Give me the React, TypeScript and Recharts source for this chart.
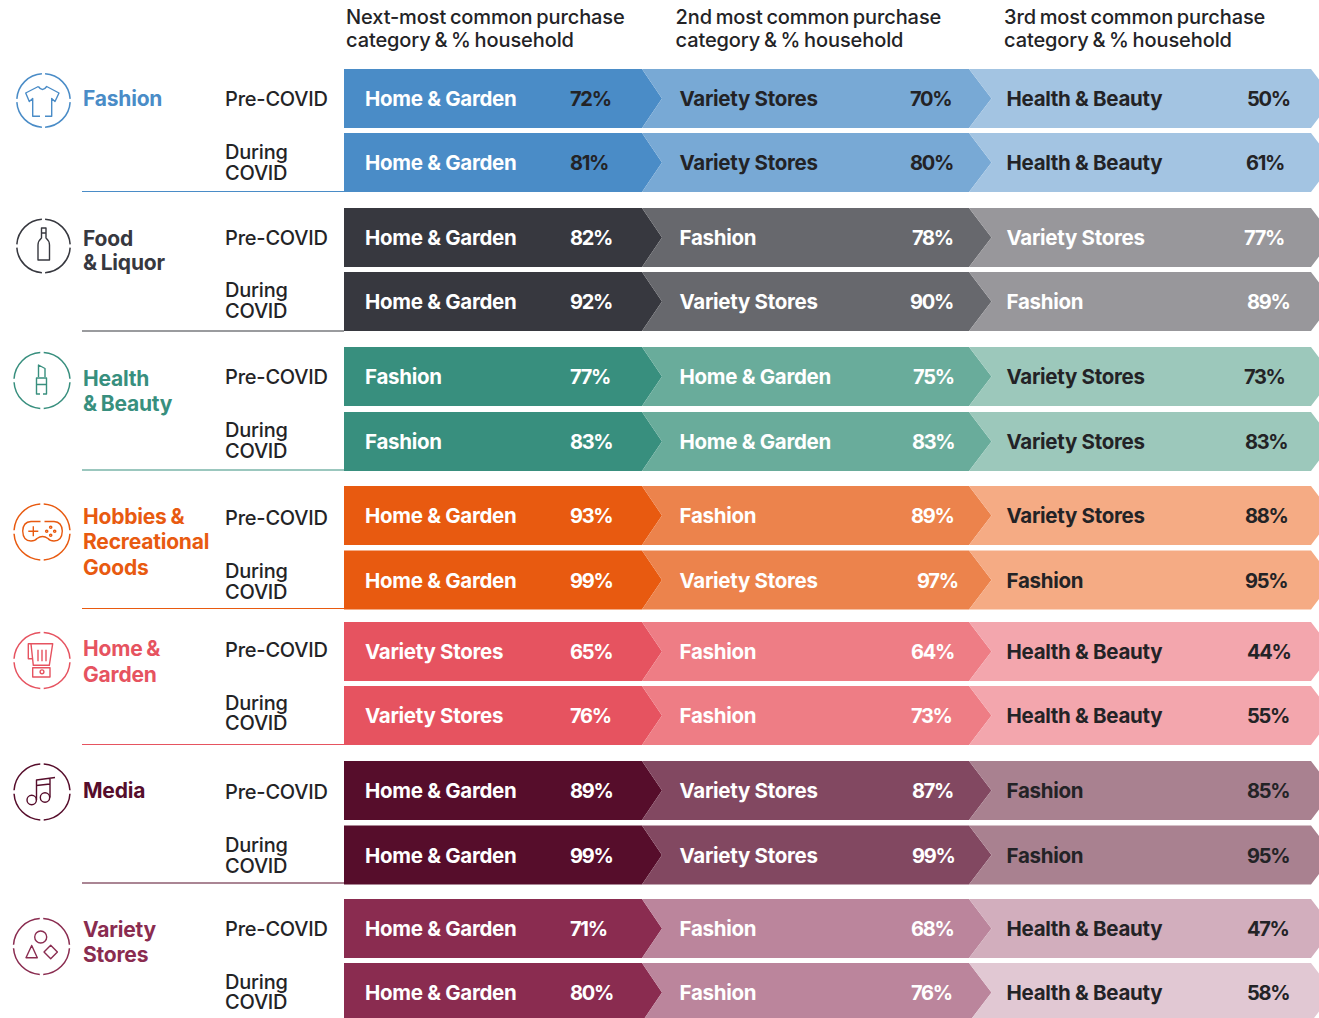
import React from 'react';
import { BarChart, Bar, XAxis, YAxis } from 'recharts';

const periods = ['Pre-COVID', 'During COVID'];
const groupNames = ['Fashion', 'Food & Liquor', 'Health & Beauty', 'Hobbies & Recreational Goods', 'Home & Garden', 'Media', 'Variety Stores'];

const headerLines = [
  ['Next-most common purchase', 'category & % household'],
  ['2nd most common purchase', 'category & % household'],
  ['3rd most common purchase', 'category & % household'],
];

const HG = 'Home & Garden';
const VS = 'Variety Stores';
const HB = 'Health & Beauty';
const FA = 'Fashion';

const fashionCats = [[HG, VS, HB], [HG, VS, HB]];
const fashionPct = [[72, 70, 50], [81, 80, 61]];
const foodCats = [[HG, FA, VS], [HG, VS, FA]];
const foodPct = [[82, 78, 77], [92, 90, 89]];
const healthCats = [[FA, HG, VS], [FA, HG, VS]];
const healthPct = [[77, 75, 73], [83, 83, 83]];
const hobbiesCats = [[HG, FA, VS], [HG, VS, FA]];
const hobbiesPct = [[93, 89, 88], [99, 97, 95]];
const homeCats = [[VS, FA, HB], [VS, FA, HB]];
const homePct = [[65, 64, 44], [76, 73, 55]];
const mediaCats = [[HG, VS, FA], [HG, VS, FA]];
const mediaPct = [[89, 87, 85], [99, 99, 95]];
const varietyCats = [[HG, FA, HB], [HG, FA, HB]];
const varietyPct = [[71, 68, 47], [80, 76, 58]];

const allCats = [fashionCats, foodCats, healthCats, hobbiesCats, homeCats, mediaCats, varietyCats];
const allPct = [fashionPct, foodPct, healthPct, hobbiesPct, homePct, mediaPct, varietyPct];

// ---- layout and style, kept apart from the values ----
const W = 1319;
const H = 1018;
const FONT = 'Inter, "Noto Sans", sans-serif';
const DARK = '#232326';
const SPANS = [298, 327, 342];
const PLOT_LEFT = 344;
const ROW_H = 59;
const TIP = [20, 22.5, 22.5];
const groupTop = [65.5, 205, 343.5, 482.5, 618.5, 757.5, 895.5];
const groupPitch = [64, 64, 65, 64.5, 64, 64.5, 64];

const swatches = [
  ['#4A8CC7', '#78A9D5', '#A3C4E2'],
  ['#37383F', '#67686D', '#98979B'],
  ['#388F7E', '#69AC9B', '#9CC8BB'],
  ['#E85A10', '#EC834C', '#F5AB84'],
  ['#E65360', '#EE7D85', '#F3A6AD'],
  ['#560D2B', '#824861', '#A98190'],
  ['#8A2C50', '#BB859C', '#D2AEBD'],
];
const lastRowFill3: Record<number, string> = { 6: '#E1C8D3' };

// name colour and percentage colour for each column
const W_ = '#FFFFFF';
const nameInk = [
  [W_, DARK, DARK], [W_, W_, W_], [W_, W_, DARK], [W_, W_, DARK], [W_, W_, DARK], [W_, W_, DARK], [W_, W_, DARK],
];
const pctInk = [
  [DARK, DARK, DARK], [W_, W_, W_], [W_, W_, DARK], [W_, W_, DARK], [W_, W_, DARK], [W_, W_, DARK], [W_, W_, DARK],
];

const pctLeft = [
  [[570, 910, 1247], [570, 910, 1246]],
  [[570, 912, 1244], [570, 910, 1247]],
  [[570, 913, 1244], [570, 912, 1245]],
  [[570, 911, 1245], [570, 917, 1245]],
  [[570, 911, 1247], [570, 911, 1247]],
  [[570, 912, 1247], [570, 912, 1247]],
  [[570, 911, 1247], [570, 911, 1247]],
];
const nameLeft = [365, 679.5, 1006.5];
const tickNudge = [[1, 0.5], [1.3, -0.5], [0.7, -1], [3, 1.75], [-1.5, -1.8], [2, 0.5], [0.8, 0]];

const labelLines = [
  { lines: ['Fashion'], ys: [98] },
  { lines: ['Food', '& Liquor'], ys: [238, 262] },
  { lines: ['Health', '& Beauty'], ys: [378, 403] },
  { lines: ['Hobbies &', 'Recreational', 'Goods'], ys: [516, 541, 567] },
  { lines: ['Home &', 'Garden'], ys: [648.5, 674.5] },
  { lines: ['Media'], ys: [790] },
  { lines: ['Variety', 'Stores'], ys: [929, 954] },
];
const ruleY = [191.5, 331, 470, 608.5, 744.5, 883];
const ringCentre = [[43.5, 100.5, 26.7], [43.5, 246, 26.7], [42, 380.5, 28], [42, 532, 28], [42, 660.5, 28], [42, 792, 28], [41.5, 946.5, 28]];

const makeRows = (g: number) =>
  periods.map((period, r) => ({
    period,
    seg1: SPANS[0],
    seg2: SPANS[1],
    seg3: SPANS[2],
    cats: allCats[g][r],
    pct: allPct[g][r],
    row: r,
  }));

const makeChevron = (g: number, col: number) => (props: any) => {
  const { x, y, width, height, payload } = props;
  const r = payload.row;
  const fill = col === 2 && r === 1 && lastRowFill3[g] ? lastRowFill3[g] : swatches[g][col];
  const mid = y + height / 2;
  const right = x + width;
  const pts = [
    [x, y],
    [right, y],
    [right + TIP[col], mid],
    [right, y + height],
    [x, y + height],
    ...(col > 0 ? [[x + TIP[col - 1], mid]] : []),
  ].map((p) => p.join(',')).join(' ');
  return (
    <g>
      <polygon points={pts} fill={fill} />
      <text x={nameLeft[col]} y={mid + 0.2} dominantBaseline="central" fill={nameInk[g][col]} fontFamily={FONT} fontSize={20.5} fontWeight={700} letterSpacing={-0.3}>
        {payload.cats[col]}
      </text>
      <text x={pctLeft[g][r][col]} y={mid + 0.6} dominantBaseline="central" fill={pctInk[g][col]} fontFamily={FONT} fontSize={20} fontWeight={700} letterSpacing={-1.3}>
        {payload.pct[col]}%
      </text>
    </g>
  );
};

const makeTick = (g: number) => (props: any) => {
  const { y, payload } = props;
  const label: string = payload.value;
  const words = label === 'During COVID' ? ['During', 'COVID'] : [label];
  const nudge = tickNudge[g][words.length - 1];
  return (
    <text fontFamily={FONT} fontSize={20} fontWeight={500} fill={DARK} letterSpacing={-0.2}>
      {words.map((w, i) => (
        <tspan key={w} x={225} y={y + nudge + (i - (words.length - 1) / 2) * 20.5} dominantBaseline="central">
          {w}
        </tspan>
      ))}
    </text>
  );
};

const Group = ({ g }: { g: number }) => {
  const height = groupPitch[g] * 2;
  return (
    <div style={{ position: 'absolute', left: 0, top: groupTop[g], width: W, height }}>
      <BarChart
        width={W}
        height={height}
        layout="vertical"
        data={makeRows(g)}
        margin={{ top: 0, right: 0, bottom: 0, left: 0 }}
        barSize={ROW_H}
      >
        <XAxis type="number" domain={[0, W - PLOT_LEFT]} hide />
        <YAxis type="category" dataKey="period" width={PLOT_LEFT} axisLine={false} tickLine={false} interval={0} tick={makeTick(g)} />
        <Bar dataKey="seg1" stackId="s" isAnimationActive={false} shape={makeChevron(g, 0)} />
        <Bar dataKey="seg2" stackId="s" isAnimationActive={false} shape={makeChevron(g, 1)} />
        <Bar dataKey="seg3" stackId="s" isAnimationActive={false} shape={makeChevron(g, 2)} />
      </BarChart>
    </div>
  );
};

const iconPaths: string[] = [
  'M38.3 86.5 Q42.5 92.5 46.7 86.5 L59 93 L55 101.5 L51.7 98.5 V116.3 H45 M40 116.3 H32.7 V98.5 L29.3 101.5 L25.7 93 L38.3 86.5',
  'M41.5 228 H46 V238 Q49.5 241 49.5 245 V260 H38 V245 Q38 241 41.5 238 Z M41.5 233 H46',
  'M38.5 377 V365 L45 368.5 V377 M36.5 384.5 V378 H46.5 V384.5 H36.5 V394 H40 M43 394 H46.5 V384.5',
  'M40.5 521.5 H31 Q23 522 22.7 531 Q23 541 31 541 Q35 541 37 538.5 Q42.5 534.5 48 538.5 Q50 541 54 541 Q62 541 62.3 531 Q62 522 54 521.5 H44.5 M33.3 526.3 V536.3 M28.3 531.3 H38.3',
  'M32.3 658.7 H28.3 V643.7 H52.7 L49.3 665.3 H33.3 L31 644 M38 649.7 V661.3 M42 649.7 V661.3 M46 649.7 V661.3 M32.7 667.7 H50 V677 H32.7 Z',
  'M36.5 800 V780 L55 777.5 M36.5 785.5 L50 784 M50 797.5 V778.5',
  'M31.7 945.5 L26 957.7 H37.3 Z M50.7 945.3 L57.4 952 L50.7 958.7 L44 952 Z',
];
const iconCircles: number[][][] = [
  [],
  [],
  [],
  [[50.7, 527.3, 1.1], [46.7, 531.3, 1.1], [54.7, 531.3, 1.1], [50.7, 535.3, 1.1]],
  [[42, 671.8, 1.9]],
  [[31.7, 800, 4.7], [45, 797.5, 4.7]],
  [[40.7, 937, 6]],
];

const Backdrop = () => (
  <svg width={W} height={H} style={{ position: 'absolute', left: 0, top: 0 }}>
    {headerLines.map((lines, c) =>
      lines.map((t, i) => (
        <text key={t + c} x={[346, 675.5, 1004][c]} y={17 + i * 23} dominantBaseline="central" fill={DARK} fontFamily={FONT} fontSize={20} fontWeight={500} letterSpacing={-0.1} wordSpacing={-1.5}>
          {t}
        </text>
      )),
    )}
    {groupNames.map((name, g) => {
      const ink = swatches[g][0];
      const [cx, cy, rad] = ringCentre[g];
      return (
        <g key={name}>
          <circle cx={cx} cy={cy} r={rad} fill="none" stroke={ink} strokeWidth={1.5} pathLength={100} strokeDasharray="23 2" strokeDashoffset={-1} />
          <path d={iconPaths[g]} fill="none" stroke={ink} strokeWidth={1.4} strokeLinejoin="round" />
          {iconCircles[g].map(([a, b, c2]) => (
            <circle key={`${a}-${b}`} cx={a} cy={b} r={c2} fill="none" stroke={ink} strokeWidth={1.4} />
          ))}
          {labelLines[g].lines.map((t, i) => (
            <text key={t} x={83} y={labelLines[g].ys[i]} dominantBaseline="central" fill={ink} fontFamily={FONT} fontSize={21} fontWeight={700} letterSpacing={-0.2} wordSpacing={-1}>
              {t}
            </text>
          ))}
          {g < ruleY.length && <line x1={82} x2={PLOT_LEFT} y1={ruleY[g]} y2={ruleY[g]} stroke={ink} strokeWidth={1.2} />}
        </g>
      );
    })}
  </svg>
);

export default function App() {
  return (
    <div style={{ position: 'absolute', left: 0, top: 0, width: W, height: H, overflow: 'hidden', background: '#fff' }}>
      <Backdrop />
      {groupNames.map((name, g) => (
        <Group key={name} g={g} />
      ))}
    </div>
  );
}
